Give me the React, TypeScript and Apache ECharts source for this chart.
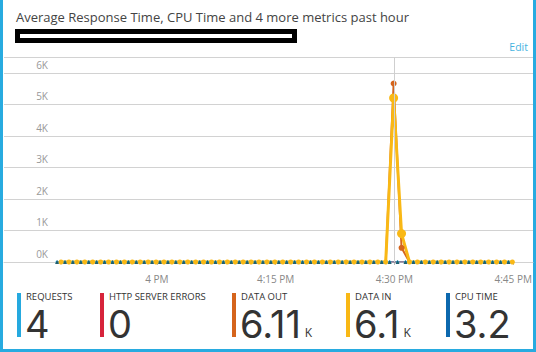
import React, { useEffect, useRef } from 'react';
import * as echarts from 'echarts';

// minutes relative to 4 PM
const sampleMinutes = [
  -12.1, -11.1, -10.1, -9.1, -8.1, -7.1, -6.1, -5.1, -4.1, -3.1, -2.1, -1.1, -0.1,
  0.9, 1.9, 2.9, 3.9, 4.9, 5.9, 6.9, 7.9, 8.9, 9.9, 10.9, 11.9, 12.9, 13.9, 14.9,
  15.9, 16.9, 17.9, 18.9, 19.9, 20.9, 21.9, 22.9, 23.9, 24.9, 25.9, 26.9, 27.9, 28.9,
  29.9, 30.9, 31.9, 32.9, 33.9, 34.9, 35.9, 36.9, 37.9, 38.9, 39.9, 40.9, 41.9, 42.9,
  43.9, 44.9,
];
const cpuMinutes = [
  -12.6, -11.6, -10.6, -9.6, -8.6, -7.6, -6.6, -5.6, -4.6, -3.6, -2.6, -1.6, -0.6,
  0.4, 1.4, 2.4, 3.4, 4.4, 5.4, 6.4, 7.4, 8.4, 9.4, 10.4, 11.4, 12.4, 13.4, 14.4,
  15.4, 16.4, 17.4, 18.4, 19.4, 20.4, 21.4, 22.4, 23.4, 24.4, 25.4, 26.4, 27.4, 28.4,
  29.4, 30.4, 31.4, 32.4, 33.4, 34.4, 35.4, 36.4, 37.4, 38.4, 39.4, 40.4, 41.4, 42.4,
  43.4, 44.4,
];
const dataInValues = [
  0, 0, 0, 0, 0, 0, 0, 0, 0, 0, 0, 0, 0, 0, 0, 0, 0, 0, 0, 0, 0, 0, 0, 0, 0, 0, 0, 0,
  0, 0, 0, 0, 0, 0, 0, 0, 0, 0, 0, 0, 0, 0,
  5200, 900,
  0, 0, 0, 0, 0, 0, 0, 0, 0, 0, 0, 0, 0, 0,
];
const dataOutValues = [
  0, 0, 0, 0, 0, 0, 0, 0, 0, 0, 0, 0, 0, 0, 0, 0, 0, 0, 0, 0, 0, 0, 0, 0, 0, 0, 0, 0,
  0, 0, 0, 0, 0, 0, 0, 0, 0, 0, 0, 0, 0, 0,
  5660, 450,
  0, 0, 0, 0, 0, 0, 0, 0, 0, 0, 0, 0, 0, 0,
];
const requestValues = [
  0, 0, 0, 0, 0, 0, 0, 0, 0, 0, 0, 0, 0, 0, 0, 0, 0, 0, 0, 0, 0, 0, 0, 0, 0, 0, 0, 0,
  0, 0, 0, 0, 0, 0, 0, 0, 0, 0, 0, 0, 0, 0,
  2, 2,
  0, 0, 0, 0, 0, 0, 0, 0, 0, 0, 0, 0, 0, 0,
];
const errorValues = [
  0, 0, 0, 0, 0, 0, 0, 0, 0, 0, 0, 0, 0, 0, 0, 0, 0, 0, 0, 0, 0, 0, 0, 0, 0, 0, 0, 0,
  0, 0, 0, 0, 0, 0, 0, 0, 0, 0, 0, 0, 0, 0,
  0, 0,
  0, 0, 0, 0, 0, 0, 0, 0, 0, 0, 0, 0, 0, 0,
];
const cpuValues = [
  0, 0, 0, 0, 0, 0, 0, 0, 0, 0, 0, 0, 0, 0, 0, 0, 0, 0, 0, 0, 0, 0, 0, 0, 0, 0, 0, 0,
  0, 0, 0, 0, 0, 0, 0, 0, 0, 0, 0, 0, 0, 0,
  2.4, 0.8,
  0, 0, 0, 0, 0, 0, 0, 0, 0, 0, 0, 0, 0, 0,
];

const tickMinutes = [0, 15, 30, 45];
const tickLabels = ['4 PM', '4:15 PM', '4:30 PM', '4:45 PM'];
const hoverMinute = 30;

const metricNames = ['REQUESTS', 'HTTP SERVER ERRORS', 'DATA OUT', 'DATA IN', 'CPU TIME'];
const metricValues = ['4', '0', '6.11', '6.1', '3.2'];
const metricUnits = ['', '', 'K', 'K', ''];
const metricColors = ['#25a9df', '#d7243b', '#d5641c', '#f9b815', '#0c68ae'];

const titleText = 'Average Response Time, CPU Time and 4 more metrics past hour';

const FONT = '"Segoe UI", "Open Sans", sans-serif';
const NUM_FONT = 'Inter, "Open Sans", sans-serif';
const tileX = [17, 100, 232, 346, 446];

const pairs = (xs: number[], ys: number[]) => xs.map((x, i) => [x, ys[i]]);

function measure(text: string, font: string) {
  const c = document.createElement('canvas').getContext('2d');
  if (!c) return text.length * 20;
  c.font = font;
  return c.measureText(text).width;
}

export default function App() {
  const ref = useRef<HTMLDivElement>(null);
  useEffect(() => {
    if (!ref.current) return;
    const chart = echarts.init(ref.current, undefined, { renderer: 'svg' });

    const graphics: any[] = [
      { type: 'rect', shape: { x: 0, y: 0, width: 3, height: 352 }, style: { fill: '#28abe0' } },
      { type: 'rect', shape: { x: 533, y: 0, width: 3, height: 352 }, style: { fill: '#28abe0' } },
      { type: 'rect', shape: { x: 0, y: 349, width: 536, height: 3 }, style: { fill: '#28abe0' } },
      {
        type: 'text', x: 16, y: 17,
        style: { text: titleText, fill: '#444', font: `13px ${FONT}`, verticalAlign: 'middle' },
      },
      { type: 'rect', shape: { x: 15, y: 29, width: 282, height: 14 }, style: { fill: '#000' } },
      { type: 'rect', shape: { x: 20, y: 34, width: 272, height: 4 }, style: { fill: '#fff' } },
      {
        type: 'text', x: 528, y: 47,
        style: { text: 'Edit', fill: '#45b3df', font: `10.5px ${FONT}`, align: 'right', verticalAlign: 'middle' },
      },
    ];

    const valueFont = `400 38px ${NUM_FONT}`;
    metricNames.forEach((name, i) => {
      const x = tileX[i];
      graphics.push({ type: 'rect', shape: { x, y: 293, width: 4, height: 44 }, style: { fill: metricColors[i] } });
      graphics.push({
        type: 'text', x: x + 9, y: 296,
        style: { text: name, fill: '#333', font: `9.5px ${FONT}`, lineHeight: 10, verticalAlign: 'middle' },
      });
      graphics.push({
        type: 'text', x: x + 8, y: 324,
        style: { text: metricValues[i], fill: '#333', font: valueFont, lineHeight: 28, verticalAlign: 'middle' },
      });
      if (metricUnits[i]) {
        const w = measure(metricValues[i], `400 38px Inter`);
        graphics.push({
          type: 'text', x: x + 8 + w + 4, y: 332,
          style: { text: metricUnits[i], fill: '#333', font: `12px ${FONT}`, lineHeight: 10, verticalAlign: 'middle' },
        });
      }
    });

    const baseSeries = {
      type: 'line',
      animation: false,
      silent: true,
    };

    chart.setOption({
      animation: false,
      grid: { left: 4, right: 3, top: 57, bottom: 90, containLabel: false },
      xAxis: {
        type: 'value',
        min: -19.3,
        max: 47.5,
        splitLine: { show: false },
        axisLine: { show: true, lineStyle: { color: '#d2d2d2' } },
        axisTick: { show: true, customValues: tickMinutes, length: 3, lineStyle: { color: '#bbb' } },
        axisLabel: {
          customValues: tickMinutes,
          formatter: (v: number) => tickLabels[tickMinutes.indexOf(v)] ?? '',
          color: '#888',
          fontSize: 10,
          fontFamily: FONT,
          margin: 12,
        },
      },
      yAxis: {
        type: 'value',
        min: 0,
        max: 6500,
        interval: 1000,
        axisLine: { show: false },
        axisTick: { show: false },
        splitLine: { show: true, lineStyle: { color: '#d2d2d2', width: 1 } },
        axisLabel: {
          inside: true,
          align: 'right',
          verticalAlign: 'bottom',
          margin: 44,
          padding: [0, 0, 3, 0],
          color: '#999',
          fontSize: 10,
          fontFamily: FONT,
          formatter: (v: number) => (v % 1000 === 0 ? `${v / 1000}K` : ''),
        },
      },
      graphic: graphics,
      series: [
        {
          ...baseSeries,
          name: 'Requests',
          data: pairs(cpuMinutes, requestValues),
          symbol: 'circle',
          symbolSize: 3,
          itemStyle: { color: metricColors[0] },
          lineStyle: { color: metricColors[0], width: 1 },
        },
        {
          ...baseSeries,
          name: 'HTTP Server Errors',
          data: pairs(cpuMinutes, errorValues),
          symbol: 'none',
          lineStyle: { color: metricColors[1], width: 1 },
        },
        {
          ...baseSeries,
          name: 'Data Out',
          data: pairs(sampleMinutes, dataOutValues),
          symbol: 'circle',
          symbolSize: (v: number[]) => (v[1] > 100 ? 6 : 3),
          itemStyle: { color: metricColors[2] },
          lineStyle: { color: metricColors[2], width: 2 },
          markLine: {
            silent: true,
            symbol: 'none',
            label: { show: false },
            lineStyle: { color: '#cfcfcf', type: 'solid', width: 1 },
            data: [{ xAxis: hoverMinute }],
          },
        },
        {
          ...baseSeries,
          name: 'Data In',
          data: pairs(sampleMinutes, dataInValues),
          symbol: 'circle',
          symbolSize: (v: number[]) => (v[1] > 100 ? 9 : 5),
          itemStyle: { color: metricColors[3] },
          lineStyle: { color: metricColors[3], width: 3 },
        },
        {
          ...baseSeries,
          name: 'CPU Time',
          data: pairs(cpuMinutes, cpuValues),
          symbol: 'triangle',
          symbolSize: 4,
          itemStyle: { color: '#1f5f6e' },
          lineStyle: { color: '#3b8fb0', width: 1, opacity: 0.6 },
        },
      ],
    });
    return () => chart.dispose();
  }, []);

  return (
    <div
      ref={ref}
      style={{ position: 'absolute', left: 0, top: 0, width: 536, height: 352, background: '#fff' }}
    />
  );
}
